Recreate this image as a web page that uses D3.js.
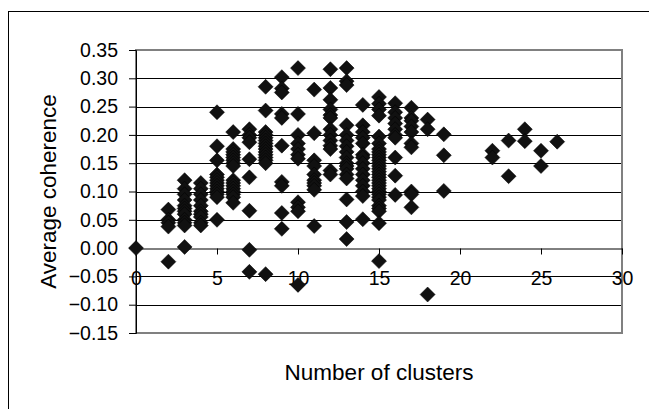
<!DOCTYPE html>
<html>
<head>
<meta charset="utf-8">
<script src="https://cdn.jsdelivr.net/npm/d3@7"></script>
<style>
  body { margin: 0; background: #fff; }
  text { font-family: "Liberation Sans", Arial, sans-serif; fill: #000; }
</style>
</head>
<body>
<svg id="chart" width="649" height="409"></svg>
<script>
// number of clusters found, and the average coherence values seen for each
const clusterCounts = [0, 2, 3, 4, 5, 6, 7, 8, 9, 10, 11, 12, 13, 14, 15, 16, 17, 18, 19, 22, 23, 24, 25, 26];

const coherenceValues = [
  [0.0],
  [0.068, 0.05, 0.045, 0.038, -0.024],
  [0.12, 0.105, 0.095, 0.085, 0.075, 0.07, 0.065, 0.06, 0.05, 0.045, 0.04, 0.002],
  [0.115, 0.105, 0.095, 0.085, 0.075, 0.065, 0.06, 0.055, 0.045, 0.04],
  [0.24, 0.18, 0.155, 0.13, 0.125, 0.12, 0.115, 0.11, 0.105, 0.1, 0.095, 0.09, 0.05],
  [0.205, 0.175, 0.17, 0.165, 0.16, 0.155, 0.15, 0.145, 0.12, 0.115, 0.11, 0.105, 0.1, 0.095, 0.09, 0.08],
  [0.21, 0.2, 0.195, 0.187, 0.157, 0.125, 0.066, -0.003, -0.042],
  [0.285, 0.243, 0.205, 0.2, 0.195, 0.19, 0.185, 0.18, 0.175, 0.17, 0.165, 0.16, 0.155, 0.15, -0.046],
  [0.302, 0.282, 0.275, 0.237, 0.23, 0.181, 0.117, 0.11, 0.062, 0.034],
  [0.318, 0.237, 0.2, 0.185, 0.175, 0.165, 0.158, 0.081, 0.072, 0.065, -0.065],
  [0.28, 0.203, 0.155, 0.145, 0.13, 0.12, 0.115, 0.11, 0.103, 0.039],
  [0.316, 0.283, 0.262, 0.245, 0.235, 0.23, 0.21, 0.2, 0.19, 0.181, 0.175, 0.137, 0.13],
  [0.318, 0.295, 0.288, 0.217, 0.2, 0.19, 0.18, 0.17, 0.16, 0.15, 0.145, 0.14, 0.13, 0.123, 0.086, 0.046, 0.016],
  [0.253, 0.217, 0.205, 0.195, 0.185, 0.165, 0.16, 0.15, 0.14, 0.13, 0.12, 0.11, 0.1, 0.092, 0.051],
  [0.267, 0.255, 0.245, 0.234, 0.197, 0.185, 0.175, 0.17, 0.165, 0.16, 0.155, 0.15, 0.145, 0.14, 0.135, 0.13,
   0.125, 0.12, 0.115, 0.11, 0.105, 0.1, 0.095, 0.09, 0.085, 0.075, 0.07, 0.065, 0.044, -0.023],
  [0.256, 0.24, 0.23, 0.22, 0.21, 0.2, 0.195, 0.16, 0.128, 0.094],
  [0.248, 0.23, 0.225, 0.215, 0.205, 0.185, 0.178, 0.1, 0.095, 0.072],
  [0.227, 0.21, -0.082],
  [0.201, 0.164, 0.101],
  [0.172, 0.16],
  [0.19, 0.127],
  [0.21, 0.189],
  [0.172, 0.145],
  [0.188]
];

const xTicks = [0, 5, 10, 15, 20, 25, 30];
const yTicks = [-0.15, -0.1, -0.05, 0, 0.05, 0.1, 0.15, 0.2, 0.25, 0.3, 0.35];

const points = [];
clusterCounts.forEach((c, i) => {
  coherenceValues[i].forEach((v) => points.push({ clusters: c, coherence: v }));
});

const svg = d3.select('#chart');

const x = d3.scaleLinear().domain([0, 30]).range([136, 622]);
const y = d3.scaleLinear().domain([-0.15, 0.35]).range([333, 50]);

// outer chart border (runs off the right and bottom edges)
svg.append('rect')
  .attr('x', 8.5)
  .attr('y', 11.5)
  .attr('width', 700)
  .attr('height', 500)
  .attr('fill', 'none')
  .attr('stroke', '#000')
  .attr('stroke-width', 1);

// horizontal gridlines
svg.append('g')
  .selectAll('line')
  .data(yTicks.filter((t) => t > -0.15 && t < 0.35 && t !== 0))
  .join('line')
  .attr('x1', x(0))
  .attr('x2', x(30))
  .attr('y1', (d) => Math.round(y(d)) + 0.5)
  .attr('y2', (d) => Math.round(y(d)) + 0.5)
  .attr('stroke', '#000')
  .attr('stroke-width', 1);

// plot area frame
svg.append('rect')
  .attr('x', x(0))
  .attr('y', y(0.35))
  .attr('width', x(30) - x(0))
  .attr('height', y(-0.15) - y(0.35))
  .attr('fill', 'none')
  .attr('stroke', '#808080')
  .attr('stroke-width', 2);

// y axis
let yAxis = svg.append('g')
  .attr('transform', `translate(${x(0)},0)`)
  .call(d3.axisLeft(y).tickValues(yTicks).tickSize(7).tickPadding(11).tickFormat(d3.format('.2f')));

yAxis.select('.domain').attr('stroke', '#000').attr('stroke-width', 1);
yAxis.selectAll('.tick line').attr('stroke', '#000');
yAxis.selectAll('.tick text')
  .style('font-size', '19.5px')
  .attr('font-family', null);

// x axis crossing at zero
let xAxis = svg.append('g')
  .attr('transform', `translate(0,${Math.round(y(0)) + 0.5})`)
  .call(d3.axisBottom(x).tickValues(xTicks).tickSize(6).tickSizeOuter(0).tickPadding(0).tickFormat(d3.format('d')));

xAxis.select('.domain').attr('stroke', '#000').attr('stroke-width', 1);
xAxis.selectAll('.tick line').attr('stroke', '#000');
xAxis.selectAll('.tick text')
  .attr('dy', null)
  .attr('y', 36)
  .style('font-size', '19.5px');

// markers
svg.append('g')
  .selectAll('path')
  .data(points)
  .join('path')
  .attr('d', 'M0,-7.5L7.5,0L0,7.5L-7.5,0Z')
  .attr('transform', (d) => `translate(${x(d.clusters)},${y(d.coherence)})`)
  .attr('fill', '#111')
  .attr('stroke', '#000')
  .attr('stroke-width', 0.5);

// axis titles
svg.append('text')
  .attr('x', (x(0) + x(30)) / 2)
  .attr('y', 380)
  .attr('text-anchor', 'middle')
  .style('font-size', '22.5px')
  .text('Number of clusters');

svg.append('text')
  .attr('transform', `translate(56,${(y(0.35) + y(-0.15)) / 2}) rotate(-90)`)
  .attr('text-anchor', 'middle')
  .style('font-size', '22.5px')
  .text('Average coherence');
</script>
</body>
</html>
